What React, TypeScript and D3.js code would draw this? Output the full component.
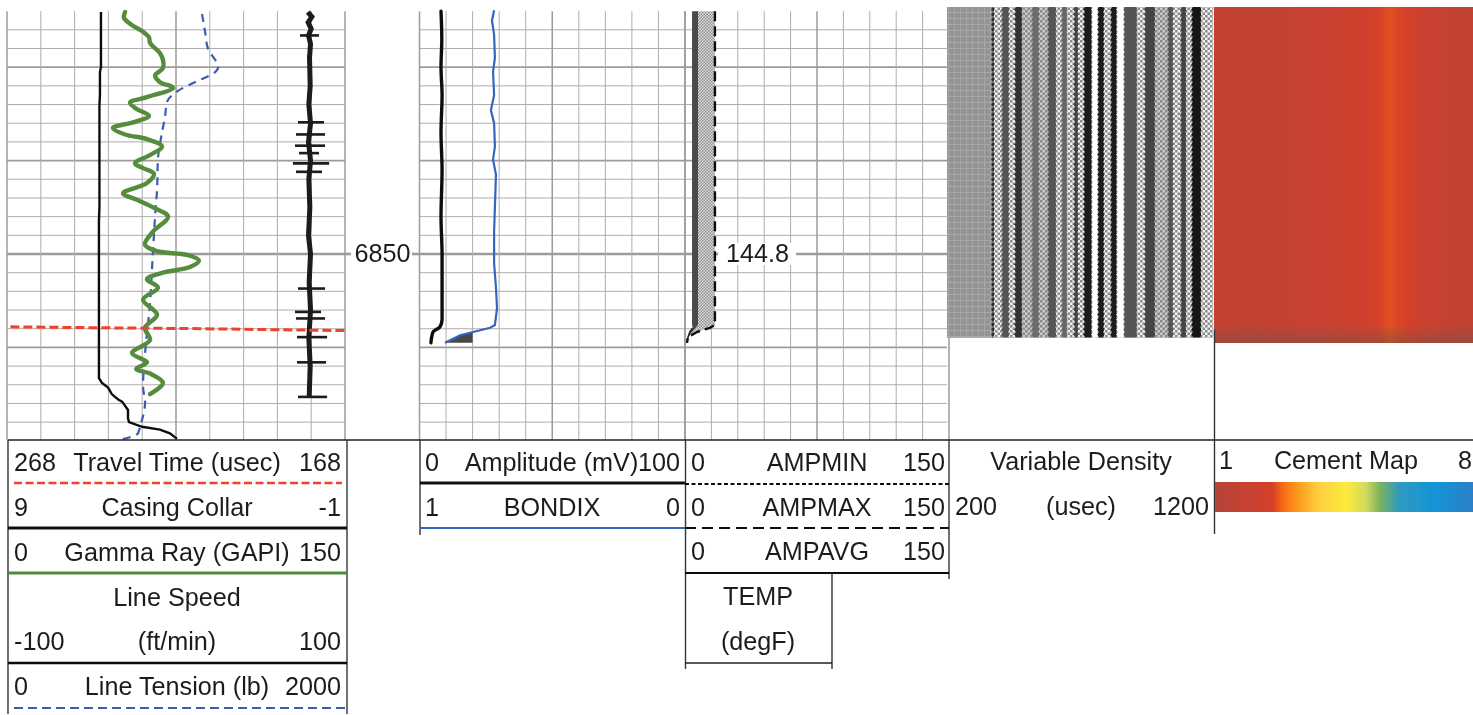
import React from "react";
import * as d3 from "d3";

// ---------- data ----------
type P = [number, number];
const gridDepthMinor = d3.range(6826, 6869, 2);
const depthLabel = "6850";
const tempLabel = "144.8";

const gamma: P[] = [[52.4,6824.1],[51.9,6824.7],[55.5,6825.5],[60.4,6826.2],[63,6826.8],[63.5,6827.4],[67.9,6828.5],[69.2,6829.2],[69.2,6830.1],[65.7,6830.9],[67.9,6831.6],[73.7,6832.2],[62.1,6833.2],[54.6,6833.8],[57.7,6834.5],[63,6835.2],[55.9,6835.9],[47,6836.5],[52.4,6837.2],[62.1,6837.7],[68.8,6838.5],[63.5,6839.4],[56.8,6840.3],[60.4,6840.8],[65.2,6841.4],[62.1,6842.4],[51.5,6843.5],[57.7,6844.2],[64.8,6845],[71.5,6846],[64.8,6847.6],[61.2,6849],[66.6,6849.7],[79.9,6850.1],[85.2,6850.7],[81.2,6851.4],[69.2,6852],[62.1,6852.7],[67,6853.6],[60.4,6854.9],[66.6,6856.5],[61.2,6857.9],[63.5,6859.2],[55.5,6860.6],[62.1,6861.6],[57.3,6862.3],[63.5,6862.8],[69.2,6863.8],[63.5,6865]];
const lineSpeed: P[] = [[-44.4,6824.1],[-44.4,6830],[-45,6830.5],[-45,6833],[-45.3,6834],[-45.3,6845],[-45.6,6846.5],[-45.6,6863.3],[-43.8,6863.8],[-40.2,6864.3],[-38,6865],[-36.1,6865.3],[-34,6865.6],[-31.9,6865.8],[-28.4,6866.7],[-28.4,6867.6],[-27.8,6868],[-20.1,6868.5],[-9.5,6868.8],[-3.6,6869.2],[0.6,6869.8]];
const lineTension: P[] = [[1154,6824.3],[1172,6826.2],[1189,6828],[1249,6830],[1219,6830.7],[1124,6831.5],[1006,6832.6],[947,6833.7],[935,6835.3],[917,6837],[893,6839.9],[888,6843.1],[876,6846],[864,6849.6],[846,6855.3],[817,6860.6],[805,6864.2],[817,6865.9],[787,6868.5],[775,6869.2],[669,6869.9]];
const collar: P[] = [[0.1,6824.1],[-0.02,6824.6],[0.09,6825.2],[0.0,6825.9],[0.08,6826.6],[0.02,6827.5],[0.05,6829],[0.03,6832],[0.07,6834],[0.02,6836],[0.08,6838],[0.02,6840],[0.07,6842],[0.04,6845],[0.08,6848],[0.02,6850],[0.06,6853],[0.02,6856],[0.07,6859],[0.03,6862],[0.06,6865.3]];
const collarSpikes: number[][] = [[6826.6,0.33,-0.23],[6835.9,0.39,-0.38],[6837.2,0.45,-0.41],[6838.4,0.48,-0.41],[6839.2,0.36,-0.23],[6840.3,0.54,-0.53],[6841.2,0.45,-0.32],[6853.7,0.39,-0.41],[6856.2,0.48,-0.29],[6856.9,0.45,-0.41],[6858.9,0.42,-0.47],[6861.6,0.42,-0.44],[6865.3,0.39,-0.47]];
const travelTime: P[] = [[267,6857.8],[240,6857.9],[210,6858],[190,6858.1],[168,6858.2]];

const amplitude: P[] = [[8.1,6824],[8.4,6827],[8.1,6830],[8.5,6833],[8.1,6837],[8.5,6841],[8.1,6846],[8.5,6850],[8.5,6857],[7.7,6857.8],[5.1,6858.35],[4.3,6859.5]];
const bondix: P[] = [[0.719,6823.9],[0.727,6825],[0.719,6826.5],[0.716,6829],[0.723,6830.5],[0.719,6833],[0.731,6834.6],[0.719,6836],[0.716,6838.5],[0.723,6839.9],[0.712,6841.5],[0.719,6847.6],[0.719,6851],[0.712,6853.6],[0.708,6855.8],[0.716,6857.6],[0.734,6857.9],[0.798,6858.35],[0.847,6858.7],[0.904,6859.5]];
const bondFill: P[] = [[0.904,6859.5],[0.88,6859.1],[0.847,6858.7],[0.8,6858.35]];
const ampDepths = [6824, 6857.6, 6857.9, 6858.35, 6858.9, 6859.5];
const ampMin = [4, 4, 4.5, 2.8, 1.7, 1.1];
const ampAvg = [7.4, 7.4, 6.2, 4, 1.7, 1.1];
const ampMax = [17, 17, 14.2, 6.8, 1.7, 1.1];

const vdlEdges = [200,369,377,407,433,456,482,520,546,580,610,632,651,678,693,715,745,768,790,817,839,866,914,944,982,1031,1050,1080,1099,1121,1155,1200];
const vdlTones = ["mesh","#2e2e2e","chk","#555","chk","#333","chk2","#6c6c6c","chk2","#555","chk","#666","chk","#444","chk","#1f1f1f","#fff","#1c1c1c","chk","#1c1c1c","#fff","#555","chk","#444","chk2","#555","chk","#444","chk","#161616","chk"];
const vdlDepthEnd = 6858.95;

const colorDomain = [1, 2.57, 2.84, 3.3, 3.84, 4.57, 5.11, 5.46, 6, 7, 8];
const colorRange = ["#b5443a","#d5402a","#f96a10","#fba020","#fdd040","#fceb3c","#cfd960","#7db45a","#2f9ac0","#1493d8","#2e7fc5"];
const cementPos = [1, 2, 3, 4, 4.8, 5.2, 5.5, 5.76, 6, 6.3, 6.7, 7.2, 8];
const cementVals = [1.8, 1.6, 1.8, 2.0, 2.2, 2.4, 2.58, 2.68, 2.6, 2.42, 2.1, 1.8, 1.6];

// ---------- layout ----------
const W = 1473, H = 715;
const y = d3.scaleLinear().domain([6850, 6860]).range([254, 347.4]);
const trackY: [number, number] = [y(6824), 440];
const gammaX = d3.scaleLinear().domain([0, 150]).range([7, 345]);
const speedX = d3.scaleLinear().domain([-100, 100]).range([7, 345]);
const tensionX = d3.scaleLinear().domain([0, 2000]).range([7, 345]);
const collarX = d3.scaleLinear().domain([9, -1]).range([7, 345]);
const ttX = d3.scaleLinear().domain([268, 168]).range([7, 345]);
const x2 = d3.scaleLinear().domain([0, 100]).range([419.5, 685]);
const bondX = d3.scaleLinear().domain([1, 0]).range([419.5, 685]);
const ampX = d3.scaleLinear().domain([0, 150]).range([685, 949]);
const vdlX = d3.scaleLinear().domain([200, 1200]).range([947, 1213]);
const cementX = d3.scaleLinear().domain([1, 8]).range([1214, 1473]);
const barX = d3.scaleLinear().domain([1, 8]).range([1215, 1473]);
const color = d3.scaleLinear<string>().domain(colorDomain).range(colorRange).interpolate(d3.interpolateRgb);

const curve = (sx: d3.ScaleLinear<number, number>, c: d3.CurveFactory = d3.curveMonotoneY) =>
  d3.line<P>().x((d) => sx(d[0])).y((d) => y(d[1])).curve(c);

const grid = "#b3abab";
const gridMajor = "#a1989a";
const FONT = "'Liberation Sans', Arial, sans-serif";
const ink = "#1d1d1d";

function Grid({ from, to, gridEnd }: { from: number; to: number; gridEnd?: number }) {
  const ticks = d3.range(0, 11).map((i) => from + (i * (to - from)) / 10);
  return (
    <g>
      {gridDepthMinor.map((d) => (
        <line key={d} x1={from} x2={gridEnd ?? to} y1={y(d)} y2={y(d)} stroke={d % 10 === 0 ? gridMajor : grid} strokeWidth={d === 6850 ? 2.6 : d % 10 === 0 ? 1.8 : 1} />
      ))}
      {ticks.map((t, i) => (
        <line key={i} x1={t} x2={t} y1={trackY[0]} y2={trackY[1]} stroke={i % 5 === 0 ? gridMajor : grid} strokeWidth={i % 5 === 0 ? 1.5 : 1} />
      ))}
    </g>
  );
}

function T({ x, y: yy, a = "start", children }: { x: number; y: number; a?: string; children: React.ReactNode }) {
  return (
    <text x={x} y={yy} textAnchor={a as any} fontFamily={FONT} fontSize={25.2} fill={ink} dominantBaseline="central">
      {children}
    </text>
  );
}

const HL = ({ a, b, yy, c = "#222", w = 1.5, dash }: { a: number; b: number; yy: number; c?: string; w?: number; dash?: string }) => (
  <line x1={a} x2={b} y1={yy} y2={yy} stroke={c} strokeWidth={w} strokeDasharray={dash} />
);
const VL = ({ xx, a, b }: { xx: number; a: number; b: number }) => <line x1={xx} x2={xx} y1={a} y2={b} stroke="#333" strokeWidth={1.4} />;

// a serrated vertical band: the wavelet edges of the density display
function band(x0: number, x1: number, top: number, bottom: number) {
  const ys = d3.range(top, bottom, 2.5).concat([bottom]);
  const left: P[] = ys.map((v, i) => [x0 + (i % 2 ? -0.9 : 0.9), v]);
  const right: P[] = ys.map((v, i) => [x1 + (i % 2 ? 0.9 : -0.9), v] as P).reverse();
  return d3.line()([...left, ...right])! + "Z";
}

export default function App() {
  const bondArea = d3.area<P>().x((d) => bondX(d[0])).y0(y(6859.5)).y1((d) => y(d[1]))(bondFill)!;
  const ampRows = ampDepths.map((d, i) => ({ d, lo: ampMin[i], mid: ampAvg[i], hi: ampMax[i] }));
  const darkArea = d3.area<any>().y((r) => y(r.d)).x0((r) => ampX(r.lo)).x1((r) => ampX(r.mid))(ampRows)!;
  const lightArea = d3.area<any>().y((r) => y(r.d)).x0((r) => ampX(r.mid)).x1((r) => ampX(r.hi))(ampRows)!;
  const ampMaxLine = d3.line<any>().y((r) => y(r.d)).x((r) => ampX(r.hi))(ampRows)!;
  const ampTail = d3.line<any>().y((r) => y(r.d)).x((r) => ampX(r.lo))(ampRows.slice(2))!;
  const cementStops = cementPos.map((p, i) => ({ off: (cementX(p) - 1214) / (1473 - 1214), c: color(cementVals[i]) }));
  const barStops = d3.range(1, 8.01, 0.1).map((v) => ({ off: (barX(v) - 1215) / (1473 - 1215), c: color(v) }));
  const vdlBottom = y(vdlDepthEnd);
  return (
    <svg width={W} height={H} viewBox={`0 0 ${W} ${H}`} style={{ position: "absolute", left: 0, top: 0, background: "#fff" }}>
      <defs>
        <pattern id="stip" width="3" height="3" patternUnits="userSpaceOnUse">
          <rect width="3" height="3" fill="#e2e2e2" />
          <rect width="1.5" height="1.5" fill="#8a8a8a" />
          <rect x="1.5" y="1.5" width="1.5" height="1.5" fill="#8a8a8a" />
        </pattern>
        <pattern id="chk" width="5" height="5" patternUnits="userSpaceOnUse">
          <rect width="5" height="5" fill="#f2f2f2" />
          <rect width="2.5" height="2.5" fill="#8c8c8c" />
          <rect x="2.5" y="2.5" width="2.5" height="2.5" fill="#8c8c8c" />
        </pattern>
        <pattern id="chk2" width="5" height="5" patternUnits="userSpaceOnUse">
          <rect width="5" height="5" fill="#cbcbcb" />
          <rect width="2.5" height="2.5" fill="#8a8a8a" />
          <rect x="2.5" y="2.5" width="2.5" height="2.5" fill="#8a8a8a" />
        </pattern>
        <pattern id="mesh" width="6" height="6" patternUnits="userSpaceOnUse">
          <rect width="6" height="6" fill="#949494" />
          <rect width="1" height="6" fill="#a6a6a6" />
          <rect width="6" height="1" fill="#a8a8a8" />
        </pattern>
        <linearGradient id="cem" x1="0" x2="1" y1="0" y2="0">
          {cementStops.map((s, i) => <stop key={i} offset={s.off} stopColor={s.c} />)}
        </linearGradient>
        <linearGradient id="cemFade" x1="0" x2="0" y1="0" y2="1">
          <stop offset="0.945" stopColor="#7a5048" stopOpacity="0" />
          <stop offset="0.985" stopColor="#7a5048" stopOpacity="0.4" />
          <stop offset="1" stopColor="#7a5048" stopOpacity="0.5" />
        </linearGradient>
        <linearGradient id="bar" x1="0" x2="1" y1="0" y2="0">
          {barStops.map((s, i) => <stop key={i} offset={s.off} stopColor={s.c} />)}
        </linearGradient>
        <filter id="soft" x="-2%" y="-2%" width="104%" height="104%"><feGaussianBlur stdDeviation="0.45" /></filter>
      </defs>

      <g filter="url(#soft)">
        <Grid from={7} to={345} />
        <Grid from={419.5} to={685} />
        <Grid from={685} to={949} gridEnd={947} />
        <HL a={345} b={351} yy={y(6850)} c={gridMajor} w={2.6} />
        <HL a={412} b={420} yy={y(6850)} c={gridMajor} w={2.6} />
        <rect x={718} y={243} width={78} height={22} fill="#fff" />

        {/* track 1 */}
        <path d={curve(speedX, d3.curveLinear)(lineSpeed)!} fill="none" stroke="#111" strokeWidth={2.4} />
        <path d={curve(tensionX)(lineTension)!} fill="none" stroke="#3a5cb0" strokeWidth={2.2} strokeDasharray="8 6" />
        <path d={curve(gammaX, d3.curveCatmullRom)(gamma)!} fill="none" stroke="#578c3e" strokeWidth={4.4} strokeLinejoin="round" strokeLinecap="round" />
        <path d={curve(collarX, d3.curveLinear)(collar)!} fill="none" stroke="#1a1a1a" strokeWidth={5} />
        {collarSpikes.map((s, i) => (
          <line key={i} x1={collarX(s[1])} x2={collarX(s[2])} y1={y(s[0])} y2={y(s[0])} stroke="#1a1a1a" strokeWidth={2.6} />
        ))}
        <path d={curve(ttX, d3.curveLinear)(travelTime)!} fill="none" stroke="#f0432b" strokeWidth={3} strokeDasharray="9 4" />

        {/* track 2 */}
        <path d={bondArea} fill="#47474d" />
        <path d={curve(x2)(amplitude)!} fill="none" stroke="#111" strokeWidth={3.4} strokeLinecap="round" />
        <path d={curve(bondX, d3.curveLinear)(bondix)!} fill="none" stroke="#3566bd" strokeWidth={2.2} />

        {/* track 3 */}
        <path d={darkArea} fill="#4a4a4a" />
        <path d={lightArea} fill="url(#stip)" />
        <path d={ampTail} fill="none" stroke="#222" strokeWidth={1.6} />
        <path d={ampMaxLine} fill="none" stroke="#111" strokeWidth={2.4} strokeDasharray="10 5" />

        {/* variable density */}
        <rect x={vdlX(vdlEdges[0])} y={7} width={vdlX(1200) - vdlX(200)} height={vdlBottom - 7} fill="url(#chk2)" />
        {vdlTones.map((tone, i) => {
          const a = vdlX(vdlEdges[i]), b = vdlX(vdlEdges[i + 1]);
          return tone.startsWith("#") ? (
            <path key={i} d={band(a, b, 7, vdlBottom)} fill={tone} />
          ) : (
            <rect key={i} x={a} y={7} width={b - a + 0.3} height={vdlBottom - 7} fill={`url(#${tone})`} />
          );
        })}

        {/* cement map */}
        <rect x={1214} y={7} width={259} height={336} fill="url(#cem)" />
        <rect x={1214} y={7} width={259} height={336} fill="url(#cemFade)" />
        <VL xx={1214.5} a={330} b={440} />

        {/* header */}
        <HL a={8} b={1473} yy={440} w={1.6} />
        <VL xx={8} a={440} b={714} />
        <VL xx={347} a={440} b={714} />
        <HL a={14} b={342} yy={483} c="#f0432b" w={2.6} dash="8 3.5" />
        <HL a={8} b={347} yy={528} c="#111" w={2.8} />
        <HL a={8} b={347} yy={573} c="#4f8a3c" w={2.8} />
        <HL a={8} b={347} yy={663} c="#111" w={2.4} />
        <HL a={14} b={347} yy={708} c="#3a5cb0" w={2} dash="9 5" />

        <VL xx={420} a={440} b={535} />
        <HL a={420} b={685} yy={483} c="#111" w={3} />
        <HL a={420} b={685} yy={528} c="#3566bd" w={2} />

        <VL xx={685.5} a={440} b={669} />
        <VL xx={949} a={440} b={579} />
        <HL a={685} b={949} yy={484} c="#111" w={1.8} dash="4 2.5" />
        <HL a={685} b={949} yy={528} c="#111" w={1.8} dash="11 6" />
        <HL a={685} b={949} yy={573} c="#111" w={1.8} />
        <VL xx={832} a={573} b={669} />
        <HL a={685} b={832} yy={663} c="#222" w={1.6} />

        <VL xx={1214.5} a={440} b={534} />
        <rect x={1215} y={482} width={258} height={30} fill="url(#bar)" />

        <g>
          <T x={14} y={462}>268</T><T x={177} y={462} a="middle">Travel Time (usec)</T><T x={341} y={462} a="end">168</T>
          <T x={14} y={507}>9</T><T x={177} y={507} a="middle">Casing Collar</T><T x={341} y={507} a="end">-1</T>
          <T x={14} y={552}>0</T><T x={177} y={552} a="middle">Gamma Ray (GAPI)</T><T x={341} y={552} a="end">150</T>
          <T x={177} y={597} a="middle">Line Speed</T>
          <T x={14} y={641}>-100</T><T x={177} y={641} a="middle">(ft/min)</T><T x={341} y={641} a="end">100</T>
          <T x={14} y={686}>0</T><T x={177} y={686} a="middle">Line Tension (lb)</T><T x={341} y={686} a="end">2000</T>

          <T x={425} y={462}>0</T><T x={551.5} y={462} a="middle">Amplitude (mV)</T><T x={680} y={462} a="end">100</T>
          <T x={425} y={507}>1</T><T x={552} y={507} a="middle">BONDIX</T><T x={680} y={507} a="end">0</T>

          <T x={691} y={462}>0</T><T x={817} y={462} a="middle">AMPMIN</T><T x={945} y={462} a="end">150</T>
          <T x={691} y={507}>0</T><T x={817} y={507} a="middle">AMPMAX</T><T x={945} y={507} a="end">150</T>
          <T x={691} y={551}>0</T><T x={817} y={551} a="middle">AMPAVG</T><T x={945} y={551} a="end">150</T>
          <T x={758} y={596} a="middle">TEMP</T>
          <T x={758} y={641} a="middle">(degF)</T>

          <T x={1081} y={461} a="middle">Variable Density</T>
          <T x={955} y={506}>200</T><T x={1081} y={506} a="middle">(usec)</T><T x={1209} y={506} a="end">1200</T>

          <T x={1219} y={460}>1</T><T x={1346} y={460} a="middle">Cement Map</T><T x={1458} y={460}>8</T>

          <T x={382.5} y={253} a="middle">{depthLabel}</T>
          <T x={726} y={253}>{tempLabel}</T>
        </g>
      </g>
    </svg>
  );
}
